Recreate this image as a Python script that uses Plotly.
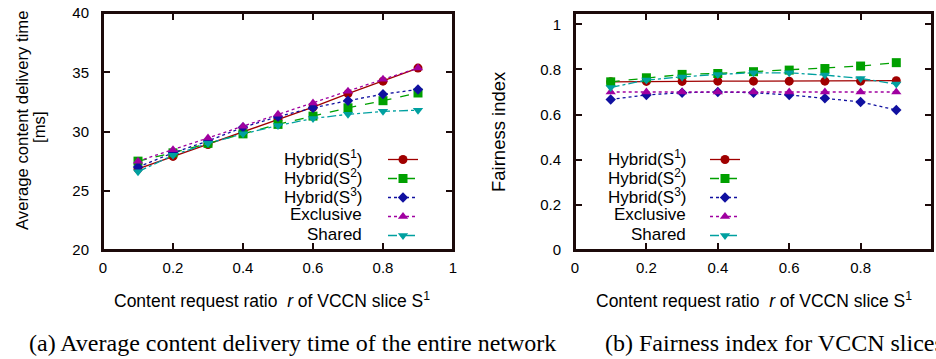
import plotly.graph_objects as go

# ---------------- data ----------------
ratio = [0.1, 0.2, 0.3, 0.4, 0.5, 0.6, 0.7, 0.8, 0.9]

delay_hybrid1 = [26.85, 27.9, 28.9, 29.95, 31.0, 32.05, 33.2, 34.25, 35.35]
delay_hybrid2 = [27.5, 28.2, 29.0, 29.8, 30.6, 31.3, 32.0, 32.6, 33.25]
delay_hybrid3 = [27.0, 28.2, 29.2, 30.35, 31.25, 32.0, 32.6, 33.15, 33.55]
delay_exclusive = [27.5, 28.45, 29.45, 30.45, 31.45, 32.4, 33.4, 34.4, 35.35]
delay_shared = [26.6, 28.0, 29.0, 29.8, 30.5, 31.1, 31.45, 31.7, 31.8]

fair_hybrid1 = [0.745, 0.747, 0.747, 0.748, 0.748, 0.748, 0.748, 0.748, 0.75]
fair_hybrid2 = [0.745, 0.763, 0.778, 0.782, 0.79, 0.797, 0.804, 0.815, 0.83]
fair_hybrid3 = [0.667, 0.687, 0.697, 0.70, 0.697, 0.687, 0.672, 0.656, 0.62]
fair_exclusive = [0.70, 0.70, 0.70, 0.70, 0.70, 0.70, 0.70, 0.70, 0.70]
fair_shared = [0.72, 0.753, 0.767, 0.778, 0.785, 0.785, 0.775, 0.76, 0.735]

x_ticks = [0, 0.2, 0.4, 0.6, 0.8, 1]
x_ticktext = ["0", "0.2", "0.4", "0.6", "0.8", "1"]
delay_ticks = [20, 25, 30, 35, 40]
fair_ticks = [0, 0.2, 0.4, 0.6, 0.8, 1]
fair_ticktext = ["0", "0.2", "0.4", "0.6", "0.8", "1"]

series_labels = ["Hybrid(S<sup>1</sup>)", "Hybrid(S<sup>2</sup>)", "Hybrid(S<sup>3</sup>)",
                 "Exclusive", "Shared"]
x_title = "Content request ratio &nbsp;<i>r</i> of VCCN slice S<sup>1</sup>"
y_title_a = "Average content delivery time"
y_title_a2 = "[ms]"
y_title_b = "Fairness index"
caption_a = "(a) Average content delivery time of the entire network"
caption_b = "(b) Fairness index for VCCN slices"

# ---------------- styling ----------------
W, H = 936, 359
SANS = "Liberation Sans, Arial, Helvetica, sans-serif"
SERIF = "Liberation Serif, Times New Roman, serif"
FRAME = "#1c0a0a"


def px(x):
    return x / W


def py(y):
    return 1 - y / H


styles = [
    dict(color="#a00000", dash="solid", symbol="circle", size=9),
    dict(color="#00a000", dash="dash", symbol="square", size=9),
    dict(color="#1010a0", dash="dot", symbol="diamond", size=8),
    dict(color="#a000a0", dash="dot", symbol="triangle-up", size=9),
    dict(color="#00a0a0", dash="dashdot", symbol="triangle-down", size=9),
]

fig = go.Figure()

delay_sets = [delay_hybrid1, delay_hybrid2, delay_hybrid3, delay_exclusive, delay_shared]
fair_sets = [fair_hybrid1, fair_hybrid2, fair_hybrid3, fair_exclusive, fair_shared]

for vals, st in zip(delay_sets, styles):
    fig.add_trace(go.Scatter(
        x=ratio, y=vals, mode="lines+markers", name=" ",
        line=dict(color=st["color"], dash=st["dash"], width=1.3),
        marker=dict(symbol=st["symbol"], size=st["size"], color=st["color"]),
        xaxis="x", yaxis="y", legend="legend"))

for vals, st in zip(fair_sets, styles):
    fig.add_trace(go.Scatter(
        x=ratio, y=vals, mode="lines+markers", name=" ",
        line=dict(color=st["color"], dash=st["dash"], width=1.3),
        marker=dict(symbol=st["symbol"], size=st["size"], color=st["color"]),
        xaxis="x2", yaxis="y2", legend="legend2"))

axis_common = dict(
    showline=True, linecolor=FRAME, linewidth=2, mirror="ticks",
    ticks="inside", ticklen=7, tickwidth=2, tickcolor=FRAME,
    showgrid=False, zeroline=False, automargin=False,
    tickfont=dict(family=SANS, size=15, color="black"),
)

L0, L1 = 103, 453
R0, R1 = 575, 932
T, B = 13, 250

fig.update_layout(
    width=W, height=H,
    margin=dict(l=0, r=0, t=0, b=0, autoexpand=False),
    paper_bgcolor="white", plot_bgcolor="white",
    font=dict(family=SANS, color="black"),
    xaxis=dict(domain=[px(L0), px(L1)], range=[0, 1], tickvals=x_ticks,
               ticktext=x_ticktext, anchor="y", ticklabelstandoff=3, **axis_common),
    yaxis=dict(domain=[py(B), py(T)], range=[20, 40], tickvals=delay_ticks,
               anchor="x", ticklabelstandoff=9, **axis_common),
    xaxis2=dict(domain=[px(R0), px(R1)], range=[0, 1], tickvals=x_ticks,
                ticktext=x_ticktext, anchor="y2", ticklabelstandoff=3, **axis_common),
    yaxis2=dict(domain=[py(B), py(T)], range=[0, 1.05], tickvals=fair_ticks,
                ticktext=fair_ticktext, anchor="x2", ticklabelstandoff=9, **axis_common),
    legend=dict(x=px(383), y=py(145), xanchor="left", yanchor="top",
                bgcolor="rgba(0,0,0,0)", borderwidth=0, font=dict(size=11),
                tracegroupgap=0, itemwidth=30),
    legend2=dict(x=px(705), y=py(145), xanchor="left", yanchor="top",
                 bgcolor="rgba(0,0,0,0)", borderwidth=0, font=dict(size=11),
                 tracegroupgap=0, itemwidth=30),
    shapes=[
        dict(type="rect", xref="x domain", yref="y domain", x0=0, x1=1, y0=0, y1=1,
             line=dict(color=FRAME, width=2)),
        dict(type="rect", xref="x2 domain", yref="y2 domain", x0=0, x1=1, y0=0, y1=1,
             line=dict(color=FRAME, width=2)),
    ],
)

ann = []
# legend labels (right-aligned, gnuplot style)
row_y = [157.7, 177, 196, 215, 234]
for lab, yy in zip(series_labels, row_y):
    ann.append(dict(x=px(364), y=py(yy), xref="paper", yref="paper", text=lab,
                    xanchor="right", yanchor="middle", showarrow=False,
                    font=dict(family=SANS, size=17)))
    ann.append(dict(x=px(688), y=py(yy), xref="paper", yref="paper", text=lab,
                    xanchor="right", yanchor="middle", showarrow=False,
                    font=dict(family=SANS, size=17)))

# axis titles
ann.append(dict(x=px(272), y=py(300), xref="paper", yref="paper", text=x_title,
                showarrow=False, xanchor="center", yanchor="middle",
                font=dict(family=SANS, size=17.5)))
ann.append(dict(x=px(754), y=py(300), xref="paper", yref="paper", text=x_title,
                showarrow=False, xanchor="center", yanchor="middle",
                font=dict(family=SANS, size=17.5)))
ann.append(dict(x=px(22), y=py(120), xref="paper", yref="paper",
                text=y_title_a, textangle=-90,
                showarrow=False, xanchor="center", yanchor="middle",
                font=dict(family=SANS, size=16.7)))
ann.append(dict(x=px(39), y=py(127), xref="paper", yref="paper",
                text=y_title_a2, textangle=-90,
                showarrow=False, xanchor="center", yanchor="middle",
                font=dict(family=SANS, size=16.7)))
ann.append(dict(x=px(498), y=py(132), xref="paper", yref="paper",
                text=y_title_b, textangle=-90,
                showarrow=False, xanchor="center", yanchor="middle",
                font=dict(family=SANS, size=18.5)))

# captions
ann.append(dict(x=px(27), y=py(343), xref="paper", yref="paper", text=caption_a,
                showarrow=False, xanchor="left", yanchor="middle",
                font=dict(family=SERIF, size=24)))
ann.append(dict(x=px(603), y=py(343), xref="paper", yref="paper", text=caption_b,
                showarrow=False, xanchor="left", yanchor="middle",
                font=dict(family=SERIF, size=24)))

fig.update_layout(annotations=ann)

fig.write_html("out.html", config={"displayModeBar": False},
               post_script="document.body.style.margin='0';")
